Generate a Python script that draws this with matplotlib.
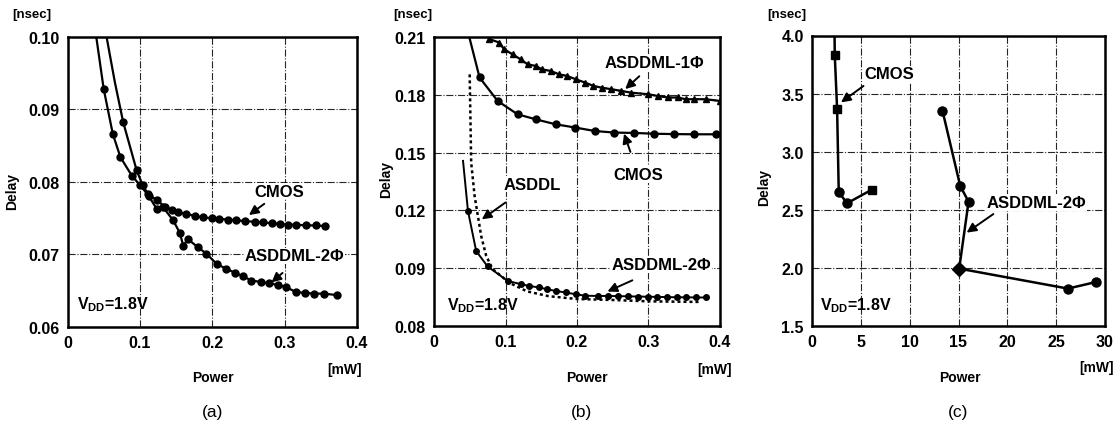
import matplotlib
matplotlib.use("Agg")
import matplotlib.pyplot as plt

plt.rcParams['font.family'] = ['Liberation Sans', 'DejaVu Sans']
plt.rcParams['font.weight'] = 'bold'
plt.rcParams['mathtext.fontset'] = 'custom'
plt.rcParams['mathtext.rm'] = 'Liberation Sans:bold'
plt.rcParams['mathtext.bf'] = 'Liberation Sans:bold'

# ---------------- data: panel (a) ----------------
a_xticks = [0, 0.1, 0.2, 0.3, 0.4]
a_xticklabels = ['0', '0.1', '0.2', '0.3', '0.4']
a_yticks = [0.06, 0.07, 0.08, 0.09, 0.10]
a_yticklabels = ['0.06', '0.07', '0.08', '0.09', '0.10']

a_cmos_x = [0.053, 0.0655, 0.077, 0.0955, 0.104, 0.1115, 0.123, 0.1345, 0.1437, 0.153,
            0.1644, 0.176, 0.187, 0.199, 0.210, 0.222, 0.233, 0.245, 0.2586, 0.270,
            0.282, 0.293, 0.3046, 0.316, 0.3295, 0.343, 0.356]
a_cmos_y = [0.1005, 0.0937, 0.0882, 0.0816, 0.0795, 0.0783, 0.0775, 0.0766, 0.0761, 0.0758,
            0.0756, 0.0753, 0.0751, 0.0750, 0.0749, 0.0748, 0.0747, 0.0746, 0.0745, 0.0744,
            0.0743, 0.0742, 0.0741, 0.0741, 0.0740, 0.0740, 0.0739]

a_asd_x = [0.039, 0.050, 0.0626, 0.0731, 0.0892, 0.1007, 0.112, 0.123, 0.132, 0.146,
           0.155, 0.160, 0.1665, 0.180, 0.192, 0.206, 0.2196, 0.231, 0.2425, 0.254,
           0.268, 0.279, 0.291, 0.302, 0.316, 0.328, 0.340, 0.354, 0.372]
a_asd_y = [0.1005, 0.0928, 0.0866, 0.0834, 0.0808, 0.0795, 0.0781, 0.0763, 0.0765, 0.0747,
           0.0730, 0.0712, 0.0721, 0.0710, 0.0701, 0.0687, 0.0680, 0.0675, 0.0670, 0.0664,
           0.0662, 0.0660, 0.0658, 0.0655, 0.0648, 0.0647, 0.0646, 0.0646, 0.0644]

# ---------------- data: panel (b) ----------------
b_xticks = [0, 0.1, 0.2, 0.3, 0.4]
b_xticklabels = ['0', '0.1', '0.2', '0.3', '0.4']
b_yticks = [0.06, 0.09, 0.12, 0.15, 0.18, 0.21]
b_yticklabels = ['0.08', '0.09', '0.12', '0.15', '0.18', '0.21']

b_one_x = [0.0776, 0.0914, 0.098, 0.110, 0.121, 0.131, 0.142, 0.151, 0.163, 0.175,
           0.186, 0.198, 0.2115, 0.223, 0.2345, 0.248, 0.262, 0.276, 0.299, 0.313,
           0.327, 0.341, 0.352, 0.364, 0.380, 0.400]
b_one_y = [0.2089, 0.2071, 0.2036, 0.2010, 0.1984, 0.1958, 0.1950, 0.1932, 0.1924, 0.1906,
           0.1898, 0.1881, 0.1863, 0.1846, 0.1837, 0.1829, 0.1820, 0.1811, 0.1803, 0.1794,
           0.1786, 0.1786, 0.1777, 0.1777, 0.1777, 0.1768]

b_cmos_x = [0.049, 0.0637, 0.089, 0.1168, 0.142, 0.170, 0.1976, 0.225, 0.252, 0.280,
            0.308, 0.336, 0.364, 0.394]
b_cmos_y = [0.2105, 0.1890, 0.1768, 0.1699, 0.1673, 0.1647, 0.1630, 0.1612, 0.1604, 0.1602,
            0.1598, 0.1596, 0.1595, 0.1595]

b_asd2_x = [0.0406, 0.0475, 0.059, 0.075, 0.103, 0.1215, 0.133, 0.147, 0.158, 0.170,
            0.184, 0.198, 0.2115, 0.230, 0.244, 0.258, 0.271, 0.285, 0.299, 0.312,
            0.326, 0.340, 0.353, 0.367, 0.380]
b_asd2_y = [0.1457, 0.1197, 0.0989, 0.0909, 0.0834, 0.0817, 0.0808, 0.0800, 0.0791, 0.0782,
            0.0774, 0.0765, 0.0757, 0.0756, 0.0756, 0.0755, 0.0754, 0.0753, 0.0752, 0.0751,
            0.0750, 0.0749, 0.0749, 0.0748, 0.0748]

b_asddl_x = [0.0499, 0.052, 0.0568, 0.0614, 0.066, 0.073, 0.082, 0.0938, 0.105, 0.130,
             0.160, 0.200, 0.250, 0.300, 0.370]
b_asddl_y = [0.1906, 0.1448, 0.1275, 0.1171, 0.1067, 0.0964, 0.0895, 0.0860, 0.0825, 0.0780,
             0.0755, 0.0740, 0.0735, 0.0728, 0.0725]

# ---------------- data: panel (c) ----------------
c_xticks = [0, 5, 10, 15, 20, 25, 30]
c_xticklabels = ['0', '5', '10', '15', '20', '25', '30']
c_yticks = [1.5, 2.0, 2.5, 3.0, 3.5, 4.0]
c_yticklabels = ['1.5', '2.0', '2.5', '3.0', '3.5', '4.0']

c_cmos_x = [2.30, 2.33, 2.57, 2.74, 3.60, 6.10]
c_cmos_y = [4.10, 3.833, 3.368, 2.650, 2.557, 2.672]

c_asd_x = [13.36, 15.17, 16.03, 15.07, 26.20, 29.10]
c_asd_y = [3.353, 2.707, 2.569, 1.994, 1.822, 1.879]

# ---------------- figure ----------------
W, H = 1120, 427
fig = plt.figure(figsize=(W / 100, H / 100), dpi=100)


def px_axes(l, r, t, b):
    return fig.add_axes([l / W, 1 - b / H, (r - l) / W, (b - t) / H])


def style(ax, xlim, ylim, xt, xtl, yt, ytl):
    ax.set_xlim(*xlim)
    ax.set_ylim(*ylim)
    ax.set_xticks(xt)
    ax.set_xticklabels(xtl)
    ax.set_yticks(yt)
    ax.set_yticklabels(ytl)
    ax.tick_params(length=0, labelsize=11.5, pad=6)
    for lab in ax.get_xticklabels() + ax.get_yticklabels():
        lab.set_fontweight('bold')
    for s in ax.spines.values():
        s.set_linewidth(1.8)
    ax.grid(True, linestyle='-.', color='black', linewidth=0.8, alpha=0.85)
    ax.set_axisbelow(True)


def arrow(ax, text, xy, xytext, tx, ty, fs=12):
    ax.annotate('', xy=xy, xytext=xytext,
                arrowprops=dict(arrowstyle='-|>', color='black', lw=1.4,
                                mutation_scale=14))
    ax.text(tx, ty, text, fontsize=fs, fontweight='bold', ha='center', va='center',
            bbox=dict(facecolor='white', edgecolor='none', pad=0.5))


vdd = r'V$_{\mathrm{DD}}$=1.8V'

# panel (a)
axa = px_axes(67.5, 357, 37.7, 328)
style(axa, (0, 0.4), (0.06, 0.10), a_xticks, a_xticklabels, a_yticks, a_yticklabels)
axa.plot(a_cmos_x, a_cmos_y, color='black', lw=1.6, marker='o', ms=5,
         markevery=list(range(2, len(a_cmos_x))))
axa.plot(a_asd_x, a_asd_y, color='black', lw=1.6, marker='o', ms=5,
         markevery=list(range(1, len(a_asd_x))))
arrow(axa, 'CMOS', (0.2476, 0.0752), (0.275, 0.0772), 0.293, 0.0787)
arrow(axa, 'ASDDML-2Φ', (0.279, 0.0659), (0.300, 0.0677), 0.314, 0.0698)
axa.text(0.013, 0.0632, vdd, fontsize=11.5, fontweight='bold', ha='left', va='center')

# panel (b)
axb = px_axes(434, 720, 38, 327)
style(axb, (0, 0.4), (0.06, 0.21), b_xticks, b_xticklabels, b_yticks, b_yticklabels)
axb.plot(b_one_x, b_one_y, color='black', lw=1.6, marker='^', ms=5)
axb.plot(b_one_x, b_one_y, color='black', lw=1.2, ls=':')
axb.plot(b_cmos_x, b_cmos_y, color='black', lw=1.6, marker='o', ms=5,
         markevery=list(range(1, len(b_cmos_x))))
axb.plot(b_asddl_x, b_asddl_y, color='black', lw=1.8, ls=(0, (1.2, 1.2)))
axb.plot(b_asd2_x, b_asd2_y, color='black', lw=1.4, marker='o', ms=4,
         markevery=list(range(1, len(b_asd2_x))))
arrow(axb, 'ASDDML-1Φ', (0.2645, 0.182), (0.29, 0.1906), 0.308, 0.1967)
arrow(axb, 'CMOS', (0.2645, 0.1612), (0.276, 0.149), 0.285, 0.1387)
arrow(axb, 'ASDDL', (0.0637, 0.1145), (0.103, 0.1249), 0.1375, 0.1336)
arrow(axb, 'ASDDML-2Φ', (0.239, 0.0773), (0.281, 0.0843), 0.3176, 0.092)
axb.text(0.0175, 0.0713, vdd, fontsize=11.5, fontweight='bold', ha='left', va='center')

# panel (c)
axc = px_axes(812, 1105, 36.5, 327)
style(axc, (0, 30), (1.5, 4.0), c_xticks, c_xticklabels, c_yticks, c_yticklabels)
axc.plot(c_cmos_x, c_cmos_y, color='black', lw=1.8)
axc.plot(c_cmos_x, c_cmos_y, ls='none', color='black', marker='s', ms=6,
         markevery=[1, 2, 5])
axc.plot(c_cmos_x, c_cmos_y, ls='none', color='black', marker='o', ms=6.5,
         markevery=[3, 4])
axc.plot(c_asd_x, c_asd_y, color='black', lw=1.8, marker='o', ms=6.5)
axc.plot(c_asd_x, c_asd_y, ls='none', color='black', marker='D', ms=7, markevery=[3])
arrow(axc, 'CMOS', (2.74, 3.41), (5.5, 3.58), 7.88, 3.67)
arrow(axc, 'ASDDML-2Φ', (15.6, 2.29), (18.8, 2.477), 22.95, 2.563)
axc.text(0.86, 1.687, vdd, fontsize=11.5, fontweight='bold', ha='left', va='center')

# outer labels
def ftext(x, y, s, **kw):
    fig.text(x / W, 1 - y / H, s, ha='center', va='center', **kw)

for (ns_x, dl_x, dl_y, pw_x, mw_x, mw_y, lab_x, lab) in [
        (32, 12, 192, 213, 345, 370, 213, '(a)'),
        (413, 386, 180, 587, 715, 370, 582, '(b)'),
        (787, 764, 187, 960, 1097, 368, 958, '(c)')]:
    ftext(ns_x, 15, '[nsec]', fontsize=9.5, fontweight='bold')
    ftext(dl_x, dl_y, 'Delay', fontsize=10, fontweight='bold', rotation=90)
    ftext(pw_x, 378, 'Power', fontsize=10, fontweight='bold')
    ftext(mw_x, mw_y, '[mW]', fontsize=10, fontweight='bold')
    ftext(lab_x, 413, lab, fontsize=12.5, fontweight='normal')

fig.savefig('out.png', dpi=100)
